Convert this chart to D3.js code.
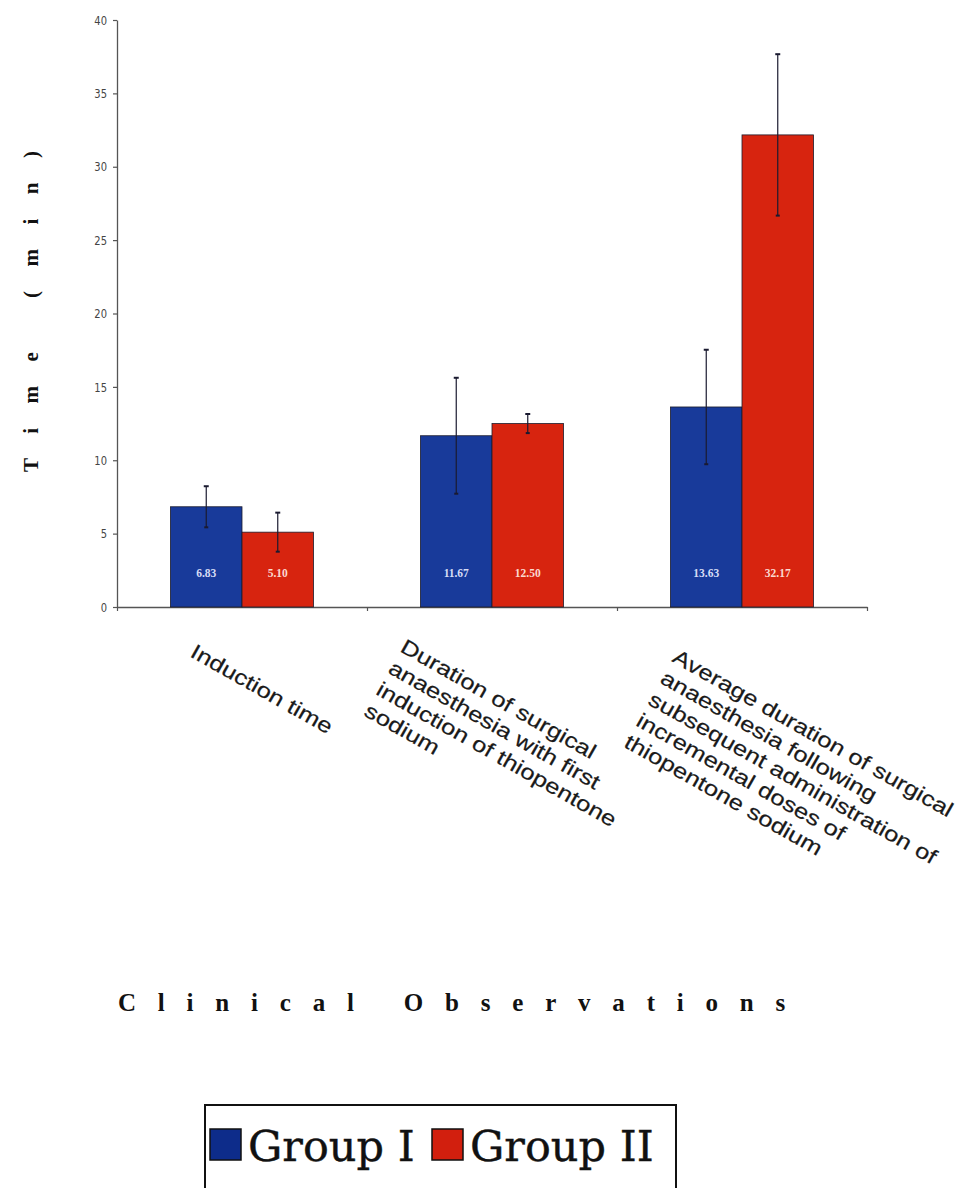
<!DOCTYPE html>
<html>
<head>
<meta charset="utf-8">
<script src="https://cdn.jsdelivr.net/npm/d3@7"></script>
<style>
  html, body { margin: 0; padding: 0; background: #fff; }
  svg { display: block; }
</style>
</head>
<body>
<svg id="chart" width="970" height="1188"></svg>
<script>
// ---------------- data ----------------
const categories = ["Induction time",
  "Duration of surgical anaesthesia with first induction of thiopentone sodium",
  "Average duration of surgical anaesthesia following subsequent administration of incremental doses of thiopentone sodium"];
const categoryLines = [
  ["Induction time"],
  ["Duration of surgical", "anaesthesia with first", "induction of thiopentone", "sodium"],
  ["Average duration of surgical", "anaesthesia following", "subsequent administration of", "incremental doses of", "thiopentone sodium"]
];
const groups = ["Group I", "Group II"];
const groupIValues = [6.83, 11.67, 13.63];
const groupIIValues = [5.10, 12.50, 32.17];
const groupIErrors = [1.4, 3.95, 3.9];
const groupIIErrors = [1.33, 0.65, 5.5];
const valueLabelsI = ["6.83", "11.67", "13.63"];
const valueLabelsII = ["5.10", "12.50", "32.17"];
const yTicks = [0, 5, 10, 15, 20, 25, 30, 35, 40];
const yTitle = "Time (min)";
const xTitle = "Clinical Observations";

// ---------------- layout ----------------
const svg = d3.select("#chart");
const plotLeft = 117, plotRight = 867, plotTop = 20, plotBottom = 607;
const colors = { "Group I": "#183a9a", "Group II": "#d7240f" };
const legendColors = { "Group I": "#0d2c8a", "Group II": "#d21f0e" };

const x0 = d3.scaleBand().domain(categories).range([plotLeft, plotRight])
  .paddingInner(0.428).paddingOuter(0.214);
const x1 = d3.scaleBand().domain(groups).range([0, x0.bandwidth()]).padding(0);
const y = d3.scaleLinear().domain([0, 40]).range([plotBottom, plotTop]);

const rows = categories.map((c, i) => ({
  cat: c, i,
  bars: [
    { g: "Group I", v: groupIValues[i], e: groupIErrors[i], lab: valueLabelsI[i] },
    { g: "Group II", v: groupIIValues[i], e: groupIIErrors[i], lab: valueLabelsII[i] }
  ]
}));

// Y axis
const yAxis = d3.axisLeft(y).tickValues(yTicks).tickSize(4).tickSizeOuter(0).tickPadding(6)
  .tickFormat(d => d);
const yg = svg.append("g").attr("transform", `translate(${plotLeft},0)`).call(yAxis);
yg.select(".domain").attr("stroke", "#555").attr("stroke-width", 1.3);
yg.selectAll(".tick line").attr("stroke", "#555").attr("stroke-width", 1.2);
yg.selectAll(".tick text")
  .attr("font-family", "'Liberation Sans Narrow', 'DejaVu Sans Condensed', sans-serif")
  .attr("font-size", 13).attr("fill", "#444")
  .attr("transform", "scale(0.85,1)").attr("x", -10 / 0.85);

// X axis line with category boundary ticks
const xLine = d3.scaleLinear().domain([0, categories.length]).range([plotLeft, plotRight]);
const xAxis = d3.axisBottom(xLine).ticks(categories.length).tickSize(4).tickSizeOuter(0).tickFormat("");
const xg = svg.append("g").attr("transform", `translate(0,${plotBottom})`).call(xAxis);
xg.select(".domain").attr("stroke", "#555").attr("stroke-width", 1.3);
xg.selectAll(".tick line").attr("stroke", "#555").attr("stroke-width", 1.2);

// bars
const cg = svg.selectAll("g.cat").data(rows).join("g").attr("class", "cat")
  .attr("transform", d => `translate(${x0(d.cat)},0)`);

cg.selectAll("rect").data(d => d.bars).join("rect")
  .attr("x", d => x1(d.g))
  .attr("y", d => y(d.v))
  .attr("width", x1.bandwidth())
  .attr("height", d => y(0) - y(d.v))
  .attr("fill", d => colors[d.g])
  .attr("stroke", "#1c1c2c").attr("stroke-width", 0.8);

// value labels
cg.selectAll("text.val").data(d => d.bars).join("text").attr("class", "val")
  .attr("x", d => x1(d.g) + x1.bandwidth() / 2)
  .attr("y", y(0) - 30)
  .attr("text-anchor", "middle")
  .attr("font-family", "'Liberation Serif', 'DejaVu Serif', serif")
  .attr("font-weight", "bold").attr("font-size", 11.5)
  .attr("fill", d => d.g === "Group I" ? "#d6ddf5" : "#fbd9cf")
  .text(d => d.lab);

// error bars
const eb = cg.selectAll("g.err").data(d => d.bars).join("g").attr("class", "err")
  .attr("stroke", "#1a1a30").attr("stroke-width", 1.2);
eb.append("line")
  .attr("x1", d => x1(d.g) + x1.bandwidth() / 2).attr("x2", d => x1(d.g) + x1.bandwidth() / 2)
  .attr("y1", d => y(d.v + d.e)).attr("y2", d => y(d.v - d.e));
eb.append("line")
  .attr("x1", d => x1(d.g) + x1.bandwidth() / 2 - 2.5).attr("x2", d => x1(d.g) + x1.bandwidth() / 2 + 2.5)
  .attr("y1", d => y(d.v + d.e)).attr("y2", d => y(d.v + d.e)).attr("stroke-width", 2);
eb.append("line")
  .attr("x1", d => x1(d.g) + x1.bandwidth() / 2 - 2).attr("x2", d => x1(d.g) + x1.bandwidth() / 2 + 2)
  .attr("y1", d => y(d.v - d.e)).attr("y2", d => y(d.v - d.e)).attr("stroke-width", 2);

// category labels (rotated, multi-line)
const labelDx = [-53, -93, -71];
const labelY = [656, 651, 661];
const lab = svg.selectAll("g.clab").data(rows).join("g").attr("class", "clab")
  .attr("transform", d => `translate(${x0(d.cat) + x0.bandwidth() / 2 + labelDx[d.i]},${labelY[d.i]}) rotate(29.5) scale(1.22,1)`);
lab.append("text")
  .attr("font-family", "'Liberation Sans', Arial, sans-serif")
  .attr("font-size", 21).attr("fill", "#1a1a1a")
  .attr("stroke", "#1a1a1a").attr("stroke-width", 0.2)
  .selectAll("tspan").data(d => categoryLines[d.i]).join("tspan")
  .attr("x", 0).attr("y", (d, j) => j * 24.5).text(d => d);

// Y title
svg.append("text")
  .attr("transform", "translate(38,472) rotate(-90)")
  .attr("font-family", "'Liberation Serif', 'Times New Roman', serif")
  .attr("font-weight", "bold").attr("font-size", 21)
  .attr("letter-spacing", 24.5).attr("fill", "#111")
  .text(yTitle);

// X title
svg.append("text")
  .attr("x", 118).attr("y", 1011)
  .attr("font-family", "'Liberation Serif', 'Times New Roman', serif")
  .attr("font-weight", "bold").attr("font-size", 25)
  .attr("letter-spacing", 21.8).attr("fill", "#111")
  .text(xTitle);

// Legend
const lg = svg.append("g");
lg.append("rect").attr("x", 205).attr("y", 1105).attr("width", 471).attr("height", 100)
  .attr("fill", "none").attr("stroke", "#111").attr("stroke-width", 2);
const legendX = [210, 432];
groups.forEach((g, i) => {
  lg.append("rect").attr("x", legendX[i]).attr("y", 1129).attr("width", 31).attr("height", 31)
    .attr("fill", legendColors[g]).attr("stroke", "#111").attr("stroke-width", 1.5);
  lg.append("text").attr("x", legendX[i] + 38).attr("y", 1161)
    .attr("font-family", "'DejaVu Serif', serif").attr("font-size", 43).attr("fill", "#111")
    .attr("stroke", "#111").attr("stroke-width", 0.4)
    .text(g);
});
</script>
</body>
</html>
